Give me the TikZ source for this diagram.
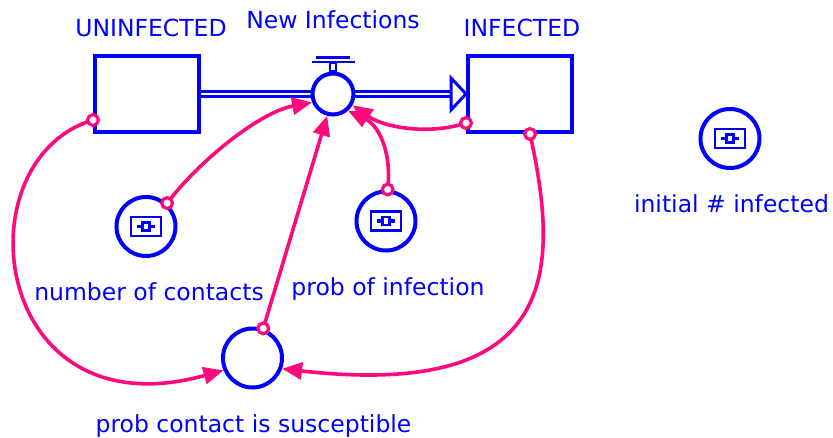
\documentclass[tikz,border=0pt]{standalone}
\usepackage{fontspec}
\setmainfont{DejaVu Sans}
\usetikzlibrary{arrows.meta}
\definecolor{sd-blue}{HTML}{0000FF}
\definecolor{sd-pink}{HTML}{FF0A7A}

\tikzset{
  stock/.style={draw=sd-blue, line width=4pt, minimum width=104pt,
    minimum height=76pt, inner sep=0pt},
  aux/.style={circle, draw=sd-blue, line width=4pt, minimum size=59pt,
    inner sep=0pt, fill=white},
  lbl/.style={text=sd-blue, anchor=base, font=\fontsize{23.5}{27}\selectfont},
  link/.style={draw=sd-pink, line width=3.6pt,
    -{Triangle[length=20pt,width=17pt]}},
  pipe/.style={draw=sd-blue, line width=2.6pt, double=white,
    double distance=2.4pt},
  const/.pic={
    \draw[sd-blue, line width=2.4pt] (-15,-9.5) rectangle (15,9.5);
    \draw[sd-blue, line width=3.6pt] (-9,0) -- (9,0);
    \draw[sd-blue, line width=2.2pt, fill=white] (-3.5,-4) rectangle (3.5,4);
  }
}
\newcommand{\linkdot}[1]{\draw[sd-pink, line width=3.2pt, fill=white] (#1) circle (5.4pt);}

\begin{document}
\begin{tikzpicture}[x=1pt, y=-1pt]
  \useasboundingbox (0,0) rectangle (833,437);

  % stocks and the flow
  \node[stock] (uninf) at (147,94) {};
  \node[stock] (inf) at (520,94) {};
  \draw[pipe] (uninf.east) -- (333,94);
  \draw[pipe] (333,94) -- ([xshift=-15pt]inf.west);
  \draw[sd-blue, line width=3pt, fill=white]
    ([xshift=-15pt,yshift=16pt]inf.west) -- (inf.west)
    -- ([xshift=-15pt,yshift=-16pt]inf.west) -- cycle;
  \node[circle, draw=sd-blue, line width=4pt, minimum size=41pt,
    inner sep=0pt, fill=white] (valve) at (333,94) {};
  \draw[sd-blue, line width=2pt, fill=white] (330,71) rectangle (336,63);
  \draw[sd-blue, line width=2.4pt] (312,62) -- (355,62);
  \draw[sd-blue, line width=3.8pt] (316,57.5) -- (350,57.5);

  % converters
  \node[aux] (contacts) at (146,226.5) {};
  \pic at (contacts) {const};
  \node[aux] (probinf) at (386,221) {};
  \pic at (probinf) {const};
  \node[aux] (initinf) at (730,138.5) {};
  \pic at (initinf) {const};
  \node[aux] (susc) at (252.5,358) {};

  % labels
  \node[lbl] (uninflbl) at (151,36) {UNINFECTED};
  \node[lbl] (newinflbl) at (333,28) {New Infections};
  \node[lbl] (inflbl) at (522,36) {INFECTED};
  \node[lbl] (contactslbl) at (149,300) {number of contacts};
  \node[lbl] (probinflbl) at (388,295) {prob of infection};
  \node[lbl] (initinflbl) at (731.5,212) {initial \# infected};
  \node[lbl] (susclbl) at (253.5,432) {prob contact is susceptible};

  % links
  \draw[link] ([yshift=-26pt]uninf.west) .. controls (-40,160) and (-10,435) .. (susc.203);
  \draw[link] (contacts.48) .. controls (200,160) and (260,112) .. (valve.202);
  \draw[link] (susc.70) -- (valve.255);
  \draw[link] (probinf.87) .. controls (392,150) and (378,125) .. (valve.312);
  \draw[link] ([yshift=-29pt]inf.west) .. controls (430,135) and (385,128) .. (valve.330);
  \draw[link] ([xshift=10pt]inf.south) .. controls (560,270) and (560,400) .. (susc.340);
  \linkdot{[yshift=-26pt]uninf.west}
  \linkdot{contacts.48}
  \linkdot{susc.70}
  \linkdot{probinf.87}
  \linkdot{[yshift=-29pt]inf.west}
  \linkdot{[xshift=10pt]inf.south}
\end{tikzpicture}
\end{document}
